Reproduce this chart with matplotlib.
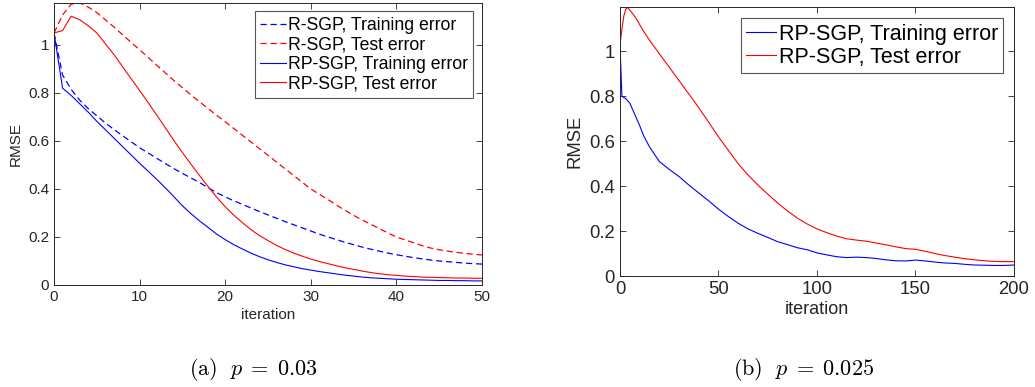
import matplotlib
matplotlib.use("Agg")
import matplotlib.pyplot as plt
from matplotlib.ticker import FuncFormatter

plt.rcParams['font.family'] = ['Liberation Sans', 'DejaVu Sans']
plt.rcParams['mathtext.fontset'] = 'cm'

# (a) p = 0.03, iterations 0..50
iter_a = list(range(51))
rsgp_train = [1.05, 0.875, 0.815, 0.77, 0.735, 0.705, 0.675, 0.648, 0.622, 0.597,
              0.572, 0.55, 0.528, 0.506, 0.485, 0.465, 0.446, 0.427, 0.405, 0.385,
              0.367, 0.351, 0.336, 0.321, 0.306, 0.292, 0.278, 0.264, 0.251, 0.238,
              0.225, 0.212, 0.2, 0.189, 0.178, 0.168, 0.158, 0.149, 0.141, 0.133,
              0.126, 0.12, 0.114, 0.109, 0.104, 0.1, 0.097, 0.094, 0.091, 0.089, 0.087]
rsgp_test = [1.05, 1.125, 1.17, 1.175, 1.158, 1.135, 1.105, 1.075, 1.043, 1.011,
             0.98, 0.948, 0.916, 0.884, 0.852, 0.822, 0.792, 0.763, 0.735, 0.707,
             0.68, 0.652, 0.624, 0.596, 0.568, 0.54, 0.512, 0.484, 0.456, 0.428,
             0.40, 0.378, 0.356, 0.333, 0.311, 0.29, 0.271, 0.253, 0.235, 0.217,
             0.20, 0.188, 0.176, 0.164, 0.154, 0.147, 0.141, 0.136, 0.132, 0.128, 0.125]
rpsgp_train = [1.05, 0.82, 0.79, 0.755, 0.72, 0.682, 0.647, 0.612, 0.577, 0.542,
               0.507, 0.474, 0.44, 0.405, 0.368, 0.33, 0.297, 0.267, 0.24, 0.212,
               0.189, 0.168, 0.15, 0.133, 0.118, 0.105, 0.094, 0.084, 0.076, 0.068,
               0.062, 0.056, 0.051, 0.046, 0.041, 0.037, 0.033, 0.030, 0.028, 0.026,
               0.024, 0.023, 0.022, 0.021, 0.020, 0.019, 0.019, 0.018, 0.018, 0.017, 0.017]
rpsgp_test = [1.05, 1.06, 1.12, 1.105, 1.08, 1.05, 1.005, 0.96, 0.91, 0.86,
              0.81, 0.76, 0.708, 0.655, 0.602, 0.552, 0.503, 0.456, 0.41, 0.366,
              0.326, 0.291, 0.26, 0.231, 0.206, 0.185, 0.165, 0.148, 0.133, 0.12,
              0.108, 0.098, 0.089, 0.08, 0.072, 0.065, 0.058, 0.052, 0.047, 0.043,
              0.04, 0.037, 0.035, 0.033, 0.032, 0.031, 0.030, 0.029, 0.029, 0.028, 0.028]

# (b) p = 0.025, iterations 0..200
iter_b = [0, 1, 2, 3, 4, 5, 8, 10, 12, 15, 20, 25, 30, 35, 40, 45, 50, 55, 60, 65,
          70, 75, 80, 85, 90, 95, 100, 105, 110, 115, 120, 125, 130, 135, 140, 145,
          150, 155, 160, 165, 170, 175, 180, 185, 190, 195, 200]
rpsgp_train_b = [1.03, 0.80, 0.795, 0.79, 0.78, 0.77, 0.71, 0.67, 0.625, 0.575, 0.51,
                 0.475, 0.443, 0.405, 0.37, 0.335, 0.298, 0.265, 0.235, 0.21, 0.19,
                 0.172, 0.153, 0.14, 0.126, 0.117, 0.103, 0.094, 0.086, 0.082, 0.084,
                 0.082, 0.078, 0.072, 0.068, 0.067, 0.071, 0.067, 0.062, 0.058, 0.056,
                 0.052, 0.049, 0.048, 0.047, 0.047, 0.049]
rpsgp_test_b = [1.03, 1.10, 1.16, 1.19, 1.195, 1.185, 1.15, 1.12, 1.09, 1.05, 0.99,
                0.93, 0.87, 0.81, 0.75, 0.685, 0.62, 0.56, 0.50, 0.45, 0.405, 0.365,
                0.325, 0.29, 0.258, 0.232, 0.21, 0.193, 0.178, 0.166, 0.16, 0.155,
                0.147, 0.139, 0.13, 0.122, 0.119, 0.11, 0.1, 0.091, 0.084, 0.077,
                0.072, 0.068, 0.065, 0.064, 0.064]

axis_grey = '#262626'


def tick_fmt(v, pos):
    return '%g' % round(v, 2)


def style_axes(ax, size):
    for s in ax.spines.values():
        s.set_color(axis_grey)
        s.set_linewidth(0.7)
    ax.tick_params(direction='in', top=True, right=True, length=4, width=0.6,
                   colors=axis_grey, labelsize=size, labelcolor=axis_grey)
    ax.yaxis.set_major_formatter(FuncFormatter(tick_fmt))
    ax.xaxis.set_major_formatter(FuncFormatter(tick_fmt))


fig = plt.figure(figsize=(10.35, 3.87), dpi=100)

ax1 = fig.add_axes([0.0522, 0.2636, 0.4135, 0.7287])
ax1.plot(iter_a, rsgp_train, color='#0000ff', ls=(0, (5, 3)), lw=0.9, label='R-SGP, Training error')
ax1.plot(iter_a, rsgp_test, color='#ff0000', ls=(0, (5, 3)), lw=0.9, label='R-SGP, Test error')
ax1.plot(iter_a, rpsgp_train, color='#0000ff', lw=0.8, label='RP-SGP, Training error')
ax1.plot(iter_a, rpsgp_test, color='#ff0000', lw=0.8, label='RP-SGP, Test error')
ax1.set_xlim(0, 50)
ax1.set_ylim(0, 1.175)
ax1.set_xticks([0, 10, 20, 30, 40, 50])
ax1.set_yticks([0, 0.2, 0.4, 0.6, 0.8, 1.0])
style_axes(ax1, 11)
ax1.set_xlabel('iteration', fontsize=11, color=axis_grey, labelpad=3)
ax1.set_ylabel('RMSE', fontsize=11, color=axis_grey, labelpad=4)
leg1 = ax1.legend(loc='upper right', bbox_to_anchor=(0.98, 0.97), fontsize=12.7,
                  handlelength=1.5, handletextpad=0.1, borderpad=0.3, labelspacing=0.15,
                  fancybox=False, framealpha=1, borderaxespad=0)
leg1.get_frame().set_edgecolor('#555555')
leg1.get_frame().set_linewidth(0.8)

ax2 = fig.add_axes([0.599, 0.2868, 0.3807, 0.695])
ax2.plot(iter_b, rpsgp_train_b, color='#0000ff', lw=0.8, label='RP-SGP, Training error')
ax2.plot(iter_b, rpsgp_test_b, color='#ff0000', lw=0.8, label='RP-SGP, Test error')
ax2.set_xlim(0, 200)
ax2.set_ylim(0, 1.198)
ax2.set_xticks([0, 50, 100, 150, 200])
ax2.set_yticks([0, 0.2, 0.4, 0.6, 0.8, 1.0])
style_axes(ax2, 13.3)
ax2.set_xlabel('iteration', fontsize=13, color=axis_grey, labelpad=2)
ax2.set_ylabel('RMSE', fontsize=13.3, color=axis_grey, labelpad=4)
leg2 = ax2.legend(loc='upper right', bbox_to_anchor=(0.973, 0.958), fontsize=15.5,
                  handlelength=1.4, handletextpad=0.1, borderpad=0.25, labelspacing=0.1,
                  fancybox=False, framealpha=1, borderaxespad=0)
leg2.get_frame().set_edgecolor('#555555')
leg2.get_frame().set_linewidth(0.8)

fig.text(0.2445, 0.045, r'$\mathrm{(a)}\ \ p\;=\;0.03$', ha='center', va='center', fontsize=16)
fig.text(0.776, 0.045, r'$\mathrm{(b)}\ \ p\;=\;0.025$', ha='center', va='center', fontsize=16)

fig.savefig('out.png', dpi=100)
